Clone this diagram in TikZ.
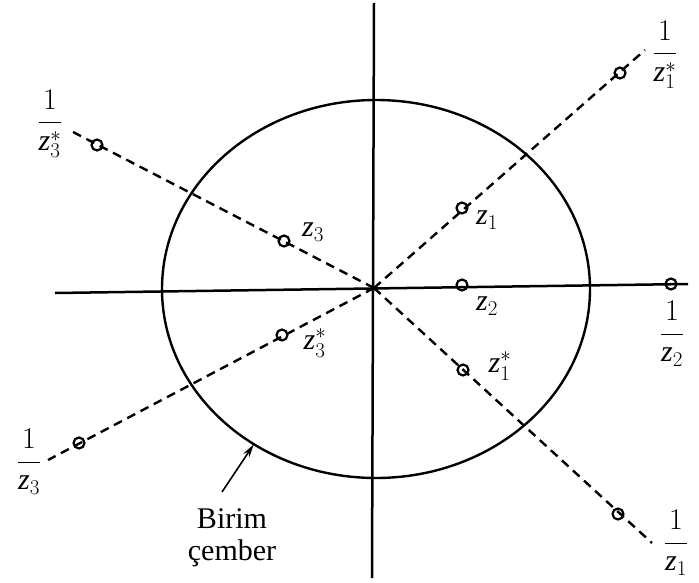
\RequirePackage{fix-cm}
\documentclass[tikz,border=0pt]{standalone}
\usepackage{fontspec}
\setmainfont{Liberation Serif}
\usetikzlibrary{arrows.meta}
\newcommand\zv{\textit{z}}
\begin{document}
\begin{tikzpicture}[x=1pt,y=-1pt,
  lab/.style={font=\fontsize{30}{33}\selectfont, inner sep=0pt},
  pt/.style={circle, draw, line width=2.2pt, minimum size=11pt, inner sep=0pt},
  ax/.style={line width=2.5pt},
  dsh/.style={line width=2.4pt, dash pattern=on 9pt off 6pt}]
\useasboundingbox (0,0) rectangle (699,583);
% axes
\coordinate (O) at (374,288);
\coordinate (xl) at (55,293);
\coordinate (xr) at (688,284);
\coordinate (yt) at (374,3);
\coordinate (yb) at (372,578);
\draw[ax] (xl) -- (xr);
\draw[ax] (yt) -- (yb);
% unit circle
\coordinate (C) at (376,289);
\draw[line width=2.4pt] (C) ellipse [x radius=214pt, y radius=189pt];
% dashed rays
\coordinate (eur) at (645,50);
\coordinate (elr) at (652,543);
\coordinate (eul) at (73,132);
\coordinate (ell) at (48,460);
\draw[dsh] (O) -- (eur);
\draw[dsh] (O) -- (elr);
\draw[dsh] (O) -- (eul);
\draw[dsh] (O) -- (ell);
% points
\node[pt] (z1) at (462,208) {};
\node[pt] (iz1s) at (620,73) {};
\node[pt] (z2) at (462,285) {};
\node[pt] (iz2) at (671,284) {};
\node[pt] (z3) at (284,241) {};
\node[pt] (iz3s) at (97,145) {};
\node[pt] (z3s) at (282,335) {};
\node[pt] (iz3) at (79,443) {};
\node[pt] (z1s) at (463,370) {};
\node[pt] (iz1) at (618,514) {};
% labels
\node[lab] (lz1) at (487,220) {$\zv_1$};
\node[lab] (lz2) at (487,306) {$\zv_2$};
\node[lab] (lz3) at (313,232) {$\zv_3$};
\node[lab] (lz3s) at (315,343) {$\zv_3^*$};
\node[lab] (lz1s) at (500,366) {$\zv_1^*$};
\node[lab] (liz1s) at (665,55) {$\displaystyle\frac{1}{\zv_1^*}$};
\node[lab] (liz2) at (672,334) {$\displaystyle\frac{1}{\zv_2}$};
\node[lab] (liz3s) at (50,124) {$\displaystyle\frac{1}{\zv_3^*}$};
\node[lab] (liz3) at (29,462) {$\displaystyle\frac{1}{\zv_3}$};
\node[lab] (liz1) at (676,543) {$\displaystyle\frac{1}{\zv_1}$};
% unit circle label
\node[lab, align=center, font=\fontsize{30}{32}\selectfont] (bc) at (232,538) {Birim\\çember};
\coordinate (tail) at (222,492);
\coordinate (tip) at (254,444);
\draw[line width=1.6pt, -{Stealth[length=14pt,width=7pt]}] (tail) -- (tip);
\end{tikzpicture}
\end{document}
